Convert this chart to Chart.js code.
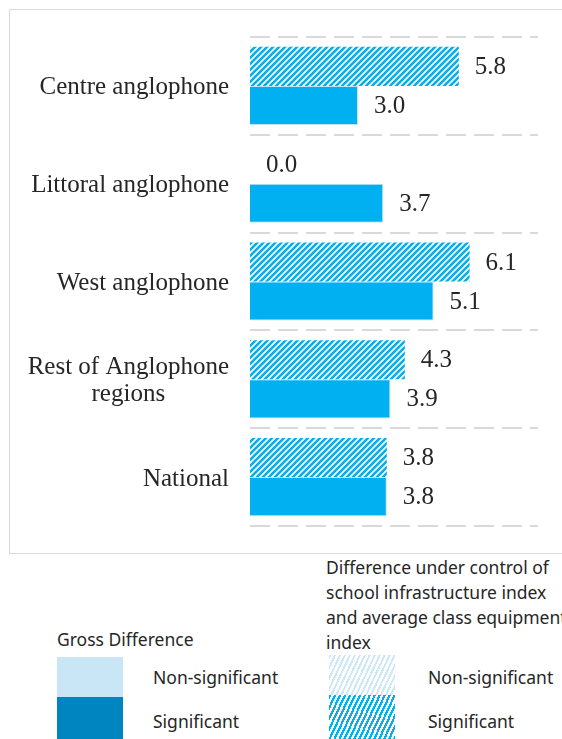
<!DOCTYPE html>
<html>
<head>
<meta charset="utf-8">
<script src="https://cdn.jsdelivr.net/npm/chart.js@4/dist/chart.umd.min.js"></script>
<style>
  html, body { margin: 0; padding: 0; background: #fff; }
  body { width: 562px; height: 739px; position: relative; overflow: hidden; }
  #box { position: absolute; left: 9px; top: 9px; width: 600px; height: 545px; border: 1.5px solid #d9d9d9; box-sizing: border-box; }
  #wrap { position: absolute; left: 10px; top: 10px; width: 552px; height: 540px; }
  .leg { position: absolute; font-family: "Noto Sans", sans-serif; font-size: 17.5px; color: #262626; line-height: 25px; white-space: nowrap; }
  .sw { position: absolute; width: 66px; }
</style>
</head>
<body>
<div id="box"></div>
<div id="wrap"><canvas id="gapChart"></canvas></div>

<!-- legend -->
<div class="leg" style="left:57px; top:627px;">Gross Difference</div>
<div class="sw" style="left:57px; top:657px; height:40px; background:#c9e6f7;"></div>
<div class="sw" style="left:57px; top:697px; height:42px; background:#0085c0;"></div>
<div class="leg" style="left:153px; top:665px;">Non-significant</div>
<div class="leg" style="left:153px; top:709px;">Significant</div>

<div class="leg" style="left:326px; top:555px;">Difference under control of<br>school infrastructure index<br>and average class equipment<br>index</div>
<div class="sw" style="left:329px; top:655px; height:40px; background:repeating-linear-gradient(115deg, #cfe8f8 0 2px, #fff 2px 4.5px);"></div>
<div class="sw" style="left:329px; top:695px; height:44px; background:repeating-linear-gradient(115deg, #00b0f0 0 2.2px, #fff 2.2px 4.5px);"></div>
<div class="leg" style="left:428px; top:665px;">Non-significant</div>
<div class="leg" style="left:428px; top:709px;">Significant</div>

<script>
// Data
const categories = ['Centre anglophone', 'Littoral anglophone', 'West anglophone', ['Rest of Anglophone', 'regions'], 'National'];
const controlledDiff = [5.8, 0.0, 6.1, 4.3, 3.8];
const grossDiff = [3.0, 3.7, 5.1, 3.9, 3.8];

const blue = '#00b0f0';

// diagonal hatch for the controlled difference
function hatch() {
  const c = document.createElement('canvas');
  c.width = 6; c.height = 6;
  const g = c.getContext('2d');
  g.fillStyle = '#fff';
  g.fillRect(0, 0, 6, 6);
  g.strokeStyle = blue;
  g.lineWidth = 2.6;
  g.beginPath();
  g.moveTo(-1, 7); g.lineTo(7, -1);
  g.moveTo(-4, 4); g.lineTo(4, -4);
  g.moveTo(2, 10); g.lineTo(10, 2);
  g.stroke();
  return g.createPattern(c, 'repeat');
}

// category labels: block right-aligned, lines centred in it
const catLabels = {
  id: 'catLabels',
  afterDraw(chart) {
    const { ctx, scales: { y } } = chart;
    ctx.save();
    ctx.font = '25px "Liberation Serif"';
    ctx.fillStyle = '#262626';
    ctx.textAlign = 'center';
    ctx.textBaseline = 'middle';
    categories.forEach((lab, i) => {
      const lines = [].concat(lab);
      const w = Math.max(...lines.map(l => ctx.measureText(l).width));
      const cx = 219 - w / 2;
      const yc = y.getPixelForTick(i) + 2;
      lines.forEach((l, j) => ctx.fillText(l, cx, yc + (j - (lines.length - 1) / 2) * 27));
    });
    ctx.restore();
  }
};

// value labels at the end of each bar
const valueLabels = {
  id: 'valueLabels',
  afterDatasetsDraw(chart) {
    const { ctx } = chart;
    ctx.save();
    ctx.font = '25px "Liberation Serif"';
    ctx.fillStyle = '#262626';
    ctx.textAlign = 'left';
    ctx.textBaseline = 'middle';
    chart.data.datasets.forEach((ds, di) => {
      chart.getDatasetMeta(di).data.forEach((bar, i) => {
        ctx.fillText(ds.data[i].toFixed(1), bar.x + 16, bar.y + 1);
      });
    });
    ctx.restore();
  }
};

new Chart(document.getElementById('gapChart'), {
  type: 'bar',
  data: {
    labels: categories,
    datasets: [
      { label: 'Controlled difference', data: controlledDiff, backgroundColor: hatch(), borderWidth: 0 },
      { label: 'Gross difference', data: grossDiff, backgroundColor: blue, borderColor: '#bfe6f7', borderWidth: 1 }
    ]
  },
  options: {
    indexAxis: 'y',
    responsive: true,
    maintainAspectRatio: false,
    animation: false,
    categoryPercentage: 0.8,
    barPercentage: 1,
    layout: { padding: { left: 240, right: 24, top: 27, bottom: 24 } },
    plugins: { legend: { display: false }, tooltip: { enabled: false } },
    scales: {
      x: { display: false, min: 0, max: 8 },
      y: {
        ticks: { display: false },
        grid: { offset: true, color: '#d9d9d9', lineWidth: 2, drawTicks: false },
        border: { display: false, dash: [20, 8] }
      }
    }
  },
  plugins: [catLabels, valueLabels]
});
</script>
</body>
</html>
